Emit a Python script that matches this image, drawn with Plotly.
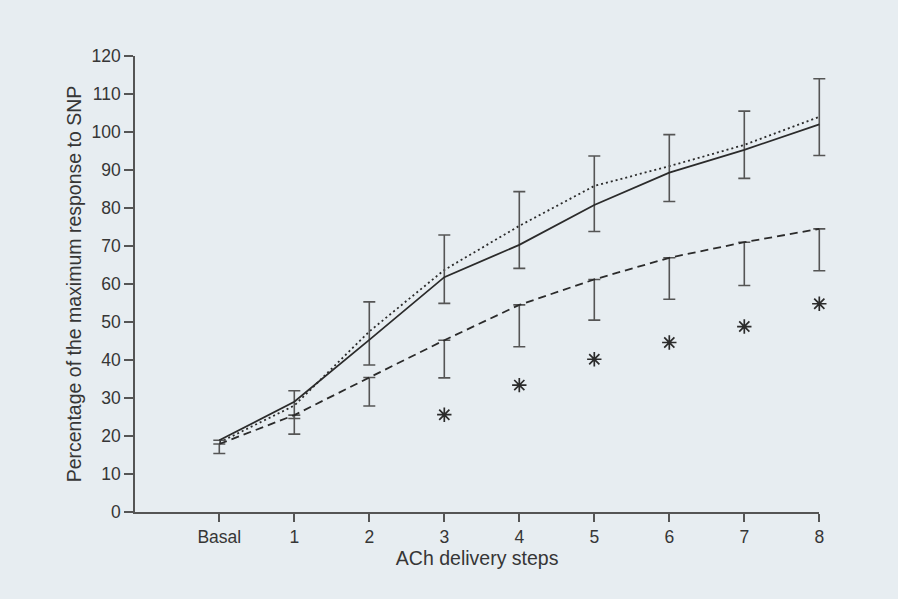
import plotly.graph_objects as go

steps = [0, 1, 2, 3, 4, 5, 6, 7, 8]
step_labels = ["Basal", "1", "2", "3", "4", "5", "6", "7", "8"]

solid = [18.9, 29.0, 45.3, 61.8, 70.3, 80.8, 89.3, 95.3, 102.0]
solid_err_up = [None, 2.9, 10.0, 11.1, 14.0, 12.9, 10.0, 10.2, 12.0]
solid_err_down = [None, 4.4, 6.6, 6.9, 6.2, 7.0, 7.6, 7.5, 8.2]

dotted = [18.3, 28.0, 47.5, 63.7, 75.3, 85.8, 91.0, 96.6, 104.0]

dashed = [17.9, 25.5, 35.4, 45.2, 54.5, 61.2, 66.9, 71.0, 74.5]
dashed_err_down = [2.5, 5.0, 7.5, 9.9, 11.0, 10.7, 10.9, 11.4, 11.0]

sig_steps = [3, 4, 5, 6, 7, 8]
sig_values = [25.6, 33.4, 40.2, 44.6, 48.8, 54.8]

ink = "#2b2b2b"
axis_col = "#555555"
bg = "#e7edf1"

W, H = 898, 599
ML, MR, MT, MB = 135, 60, 56, 87
plot_w = W - ML - MR
px_per_step = 75.0
x_left = -1.124
x_last = 8
axis_frac = (x_last - x_left) * px_per_step / plot_w
x_right_data = x_left + plot_w / px_per_step

fig = go.Figure()

fig.add_trace(go.Scatter(
    x=steps, y=dotted, mode="lines",
    line=dict(color=ink, width=1.8, dash="2px,3px"),
    cliponaxis=False, showlegend=False,
))
fig.add_trace(go.Scatter(
    x=steps, y=solid, mode="lines",
    line=dict(color=ink, width=1.8),
    error_y=dict(type="data", symmetric=False, array=solid_err_up,
                 arrayminus=solid_err_down, color=axis_col,
                 thickness=1.6, width=6),
    cliponaxis=False, showlegend=False,
))
fig.add_trace(go.Scatter(
    x=steps, y=dashed, mode="lines",
    line=dict(color=ink, width=1.8, dash="8px,5px"),
    error_y=dict(type="data", symmetric=False, array=[0] * len(dashed),
                 arrayminus=dashed_err_down, color=axis_col,
                 thickness=1.6, width=6),
    cliponaxis=False, showlegend=False,
))
fig.add_trace(go.Scatter(
    x=sig_steps, y=sig_values, mode="markers", xaxis="x2", yaxis="y",
    marker=dict(symbol="asterisk-open", size=12, color=ink,
                line=dict(color=ink, width=1.7)),
    cliponaxis=False, showlegend=False,
))

font_family = "Liberation Sans, Arial, sans-serif"

fig.update_layout(
    width=W, height=H,
    margin=dict(l=ML, r=MR, t=MT, b=MB),
    paper_bgcolor=bg, plot_bgcolor="rgba(0,0,0,0)",
    font=dict(family=font_family, size=17, color="#363636"),
    xaxis=dict(
        domain=[0, 1], range=[x_left, x_right_data], visible=False,
    ),
    xaxis2=dict(
        domain=[0, axis_frac], anchor="y", range=[x_left, x_last],
        tickvals=steps, ticktext=step_labels,
        showgrid=False, zeroline=False, showline=True,
        linecolor=axis_col, linewidth=1.5,
        ticks="outside", ticklen=8, tickwidth=1.5, tickcolor=axis_col,
        title=dict(text="ACh delivery steps", standoff=4,
                   font=dict(size=19.5)),
        tickfont=dict(size=17.5),
    ),
    yaxis=dict(
        range=[0, 120], tickvals=list(range(0, 121, 10)),
        showgrid=False, zeroline=False, showline=True,
        linecolor=axis_col, linewidth=1.5,
        ticks="outside", ticklen=9, tickwidth=1.5, tickcolor=axis_col,
        title=dict(text="Percentage of the maximum response to SNP",
                   standoff=5, font=dict(size=19.5)),
        tickfont=dict(size=17.5),
    ),
)

fig.write_html(
    "out.html",
    config={"displayModeBar": False},
    post_script="document.body.style.margin='0';"
                "document.body.style.background='%s';" % bg,
)
